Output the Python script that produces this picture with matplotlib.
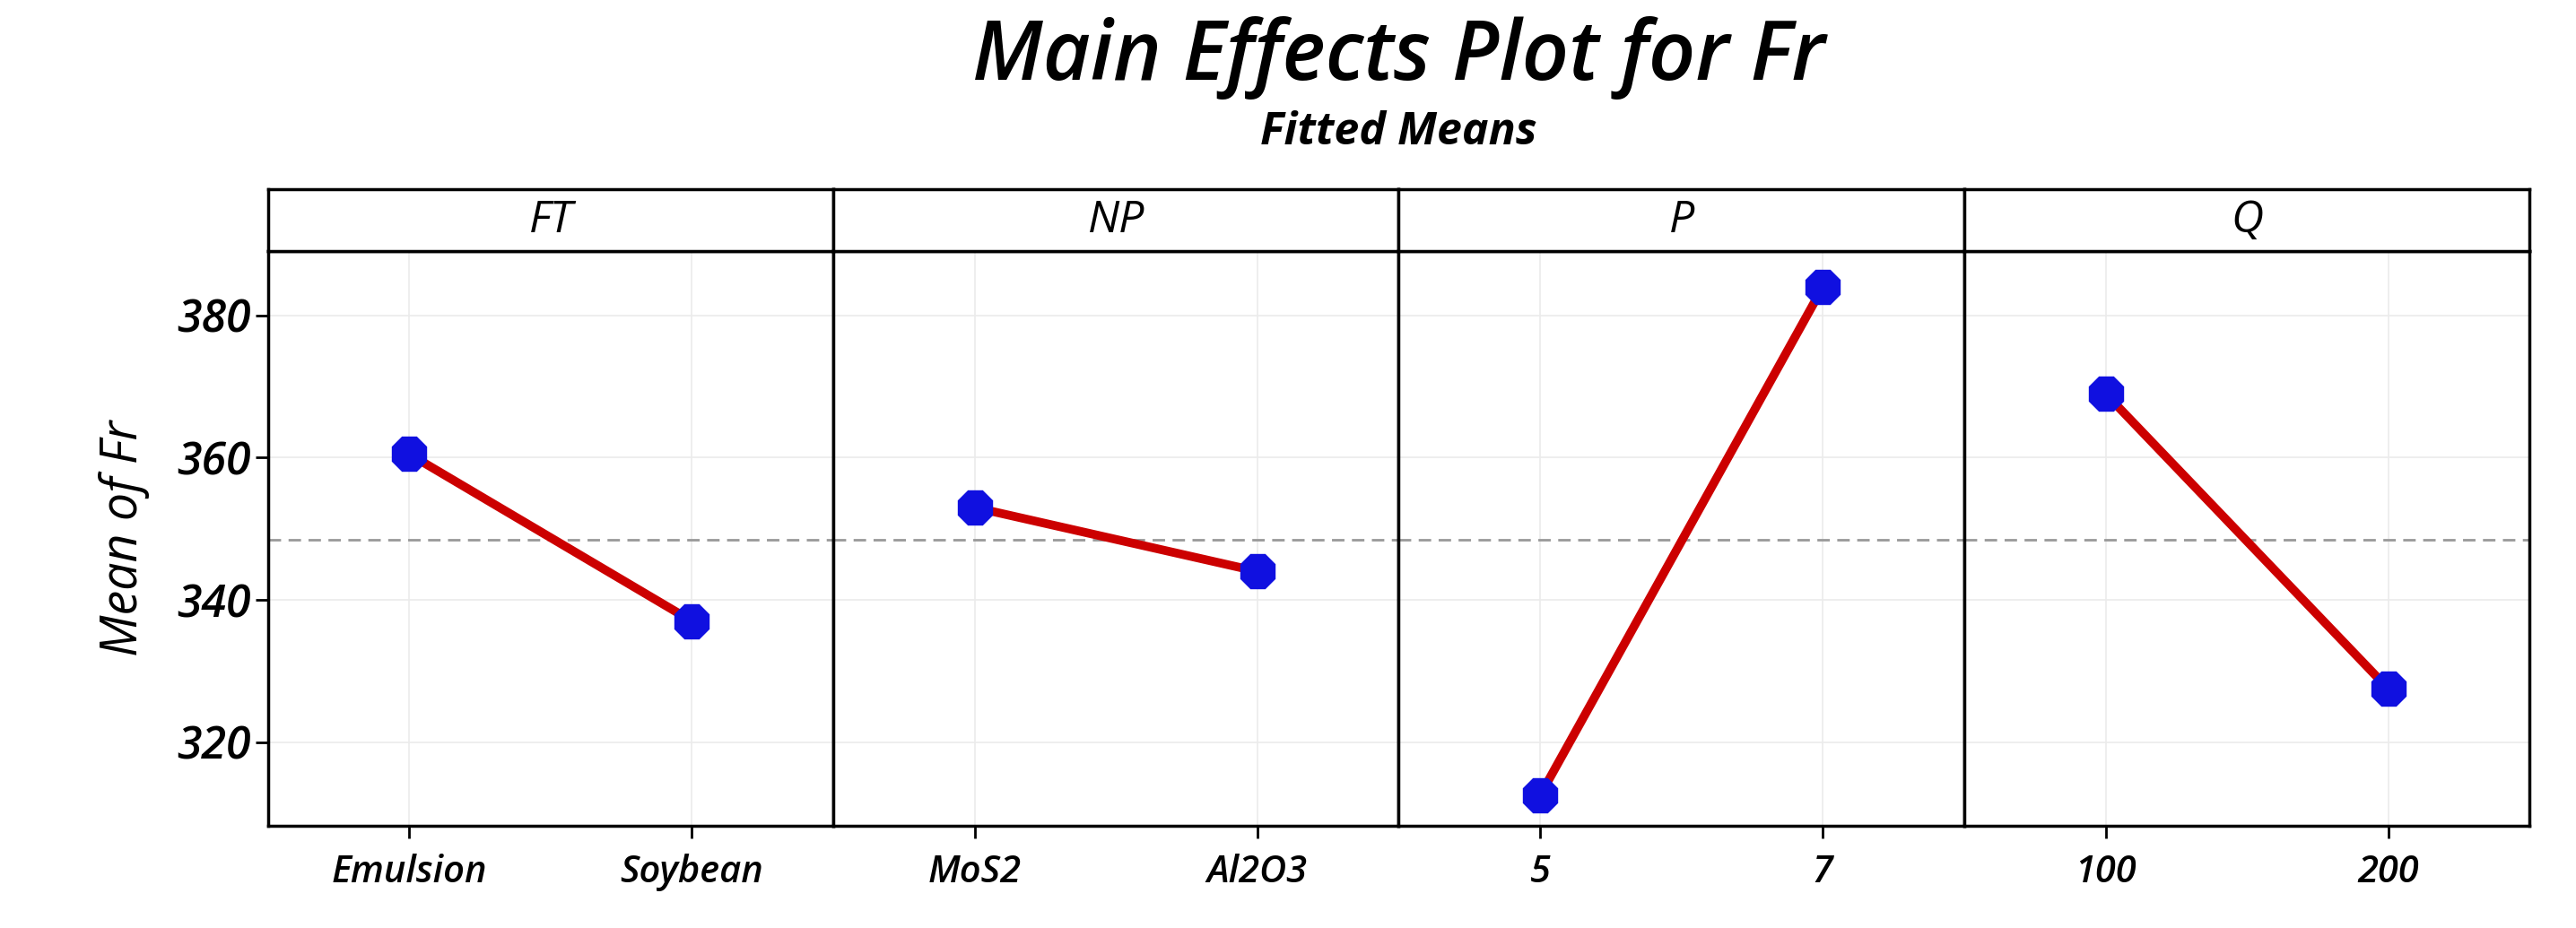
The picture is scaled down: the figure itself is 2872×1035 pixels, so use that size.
import matplotlib
matplotlib.use("Agg")
import matplotlib.pyplot as plt

factors = ["FT", "NP", "P", "Q"]
levels = [["Emulsion", "Soybean"], ["MoS2", "Al2O3"], ["5", "7"], ["100", "200"]]
means = [[360.5, 337.0], [353.0, 344.0], [312.5, 384.0], [369.0, 327.5]]
grand_mean = 348.5
yticks = [320, 340, 360, 380]

plt.rcParams["font.family"] = ["Open Sans", "DejaVu Sans"]
fig = plt.figure(figsize=(28.72, 10.35), dpi=100)

left, right, bottom, top, strip_top = 0.104, 0.982, 0.110, 0.729, 0.796
w = (right - left) / len(factors)

for i, (f, lv, m) in enumerate(zip(factors, levels, means)):
    ax = fig.add_axes([left + i * w, bottom, w, top - bottom])
    ax.set_xlim(-0.5, 1.5)
    ax.set_ylim(308.2, 389)
    ax.grid(True, color="#ebebeb", lw=1.2)
    ax.set_axisbelow(True)
    ax.axhline(grand_mean, color="#999999", ls=(0, (5, 3)), lw=2)
    ax.plot([0, 1], m, color="#cc0000", lw=7, zorder=3)
    ax.plot([0, 1], m, ls="none", marker="8", ms=30, color="#1010e0", zorder=4)
    ax.set_xticks([0, 1])
    ax.set_xticklabels(lv, fontsize=30, style="italic", weight="semibold")
    ax.set_yticks(yticks)
    ax.tick_params(axis="both", width=2, length=10, colors="black")
    ax.tick_params(axis="x", pad=12)
    if i == 0:
        ax.set_yticklabels([str(v) for v in yticks], fontsize=36, style="italic",
                           weight="semibold")
        ax.set_ylabel("Mean of Fr", fontsize=40, style="italic", labelpad=22)
    else:
        ax.tick_params(axis="y", length=0, labelleft=False)
    for s in ax.spines.values():
        s.set_linewidth(2.5)
    sx = fig.add_axes([left + i * w, top, w, strip_top - top])
    sx.set_xticks([]); sx.set_yticks([])
    for s in sx.spines.values():
        s.set_linewidth(2.5)
    sx.text(0.5, 0.5, f, ha="center", va="center", fontsize=36, style="italic",
            transform=sx.transAxes)

fig.text(0.543, 0.938, "Main Effects Plot for Fr", ha="center", va="center",
         fontsize=66, style="italic", weight="semibold")
fig.text(0.543, 0.857, "Fitted Means", ha="center", va="center",
         fontsize=36, style="italic", weight="bold")

fig.savefig("out.png", dpi=100)
